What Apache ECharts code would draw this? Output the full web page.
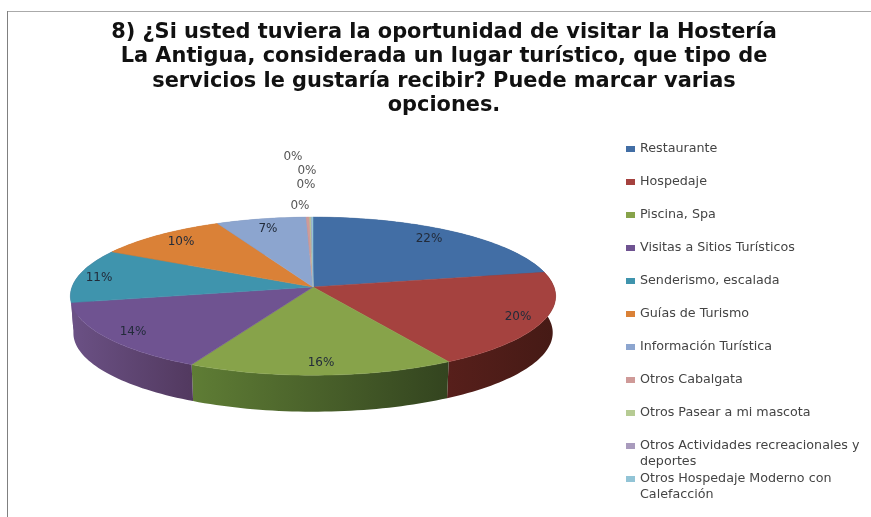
<!DOCTYPE html>
<html>
<head>
<meta charset="utf-8">
<style>
  html, body { margin: 0; background: #fff; }
  #chart { width: 871px; height: 517px; }
</style>
</head>
<body>
<div id="chart"></div>
<script src="https://cdn.jsdelivr.net/npm/echarts@6/dist/echarts.min.js"></script>
<script>
  const titleLines = [
    '8) ¿Si usted tuviera la oportunidad de visitar la Hostería',
    'La Antigua, considerada un lugar turístico, que tipo de',
    'servicios le gustaría recibir? Puede marcar varias',
    'opciones.'
  ]
  const categories = [
    'Restaurante', 'Hospedaje', 'Piscina, Spa', 'Visitas a Sitios Turísticos',
    'Senderismo, escalada', 'Guías de Turismo', 'Información Turística',
    'Otros Cabalgata', 'Otros Pasear a mi mascota',
    'Otros Actividades recreacionales y deportes',
    'Otros Hospedaje Moderno con Calefacción'
  ]
  const percents = [21.9, 19.6, 15.9, 14.4, 11.0, 9.9, 6.7, 0.25, 0.1, 0.05, 0.1]
  const colors = ['#426ea5', '#a5423f', '#87a34a', '#6f5391', '#3f94ad', '#da8137', '#8ca5cf', '#cf9a98', '#b6cb93', '#a99bbd', '#92c4d6']
  const sideLeft = ['#2c4a70', '#571f1b', '#5f7d35', '#6b5185', '#6b5185', '#a5602a', '#6a7d9c', '#9c7472', '#8a9a6f', '#80758f', '#6e94a2']
  const sideRight = ['#2c4a70', '#451a15', '#33441f', '#52395f', '#6b5185', '#a5602a', '#6a7d9c', '#9c7472', '#8a9a6f', '#80758f', '#6e94a2']

  const FONT = '"DejaVu Sans", "Noto Sans", sans-serif'
  const total = percents.reduce((a, b) => a + b, 0)
  const starts = percents.map((_, i) => percents.slice(0, i).reduce((a, b) => a + b, 0))

  // tilted disc, seen in perspective: the apex is above the middle of the ellipse
  const apex = [313, 287]
  const rimX = 241, rimY = 78, tilt = -0.1158, depth = 36.5
  // label spots, the 0% ones do not fit on their slices
  const labelSpots = [[429, 239], [518, 317], [321, 363], [133, 332], [99, 278], [181, 242], [268, 229], [300, 206], [306, 185], [307, 171], [293, 157]]

  function project(angle, r) {
    const u = Math.sin(angle) * r
    const v = -Math.cos(angle) * r
    const d = 1 + tilt * v
    return [apex[0] + rimX * u / d, apex[1] + rimY * v / d]
  }

  function renderSlice(idx) {
    return function (params, api) {
      const value = api.value(0)
      const a0 = starts[idx] / total * Math.PI * 2
      const a1 = (starts[idx] + value) / total * Math.PI * 2
      const steps = Math.max(2, Math.ceil((a1 - a0) * 40))
      const rim = []
      for (let i = 0; i <= steps; i++) {
        rim.push(project(a0 + (a1 - a0) * i / steps, 1))
      }
      const lower = rim.slice().reverse().map(p => [apex[0] + (p[0] - apex[0]) * 0.988, p[1] + depth])
      const pct = Math.round(value / total * 100) + '%'

      return {
        type: 'group',
        children: [
          {
            type: 'polygon',
            z2: 1,
            shape: { points: rim.concat(lower) },
            style: {
              fill: {
                type: 'linear', x: 0, y: 0, x2: 1, y2: 0,
                colorStops: [{ offset: 0, color: sideLeft[idx] }, { offset: 1, color: sideRight[idx] }]
              }
            }
          },
          {
            type: 'polygon',
            z2: 2,
            shape: { points: [apex].concat(rim) },
            style: { fill: colors[idx], stroke: colors[idx], lineWidth: 0.5 }
          },
          {
            type: 'text',
            z2: 3,
            style: {
              x: labelSpots[idx][0], y: labelSpots[idx][1], text: pct,
              font: '12px ' + FONT,
              fill: idx >= 7 ? '#555' : '#222b3a',
              align: 'center', verticalAlign: 'middle'
            }
          }
        ]
      }
    }
  }

  const chart = echarts.init(document.getElementById('chart'))
  chart.setOption({
    animation: false,
    backgroundColor: '#fff',
    title: {
      text: titleLines.join('\n'),
      left: 439,
      top: 15,
      textAlign: 'center',
      textStyle: { fontFamily: FONT, fontWeight: 'bold', fontSize: 20.9, lineHeight: 24.5, color: '#111' }
    },
    legend: {
      orient: 'vertical',
      left: 621,
      top: 137,
      icon: 'rect',
      itemWidth: 9,
      itemHeight: 6,
      itemGap: 19,
      selectedMode: false,
      formatter: name => name
        .replace(' deportes', '')
        .replace(' Calefacción', ''),
      textStyle: { fontFamily: FONT, fontSize: 12.7, lineHeight: 14, color: '#444' }
    },
    graphic: [
      { type: 'line', silent: true, shape: { x1: 7, y1: 11.5, x2: 871, y2: 11.5 }, style: { stroke: '#aaa', lineWidth: 1 } },
      { type: 'line', silent: true, shape: { x1: 7.5, y1: 11, x2: 7.5, y2: 517 }, style: { stroke: '#808080', lineWidth: 1 } },
      { type: 'text', left: 640, top: 455, style: { text: 'deportes', font: '12.7px ' + FONT, fill: '#444' } },
      { type: 'text', left: 640, top: 488, style: { text: 'Calefacción', font: '12.7px ' + FONT, fill: '#444' } }
    ],
    series: categories.map((name, i) => ({
      type: 'custom',
      name: name,
      coordinateSystem: 'none',
      itemStyle: { color: colors[i] },
      renderItem: renderSlice(i),
      data: [[percents[i]]]
    }))
  })
</script>
</body>
</html>
